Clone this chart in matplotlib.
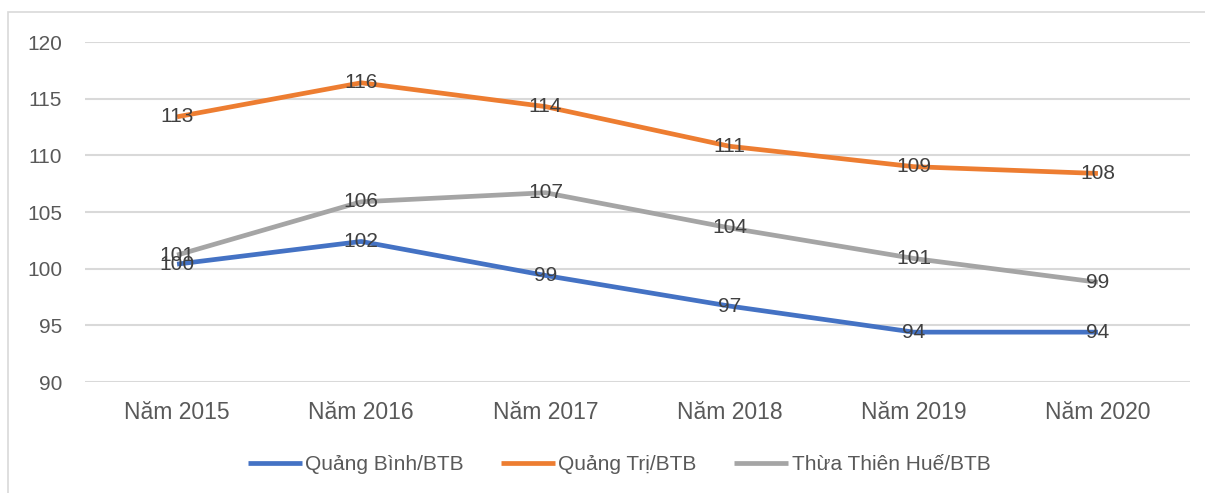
import matplotlib
matplotlib.use("Agg")
import matplotlib.pyplot as plt
from matplotlib.patches import Rectangle

categories = ["Năm 2015", "Năm 2016", "Năm 2017", "Năm 2018", "Năm 2019", "Năm 2020"]
quang_binh = [100.4, 102.4, 99.4, 96.7, 94.4, 94.4]
quang_tri = [113.4, 116.4, 114.3, 110.8, 109.0, 108.4]
thua_thien_hue = [101.2, 105.9, 106.7, 103.6, 100.9, 98.8]
series_names = ["Quảng Bình/BTB", "Quảng Trị/BTB", "Thừa Thiên Huế/BTB"]
yticks = [90, 95, 100, 105, 110, 115, 120]

colors = ["#4472C4", "#ED7D31", "#A5A5A5"]

W, H = 1205, 493
fig = plt.figure(figsize=(W / 100, H / 100), dpi=100)
ax = fig.add_axes([85 / W, 1 - 382 / H, (1190 - 85) / W, (382 - 42) / H])

# outer chart frame
fig.patches.append(Rectangle((8 / W, -0.1), 1.5, 1 - 12 / H + 0.1, transform=fig.transFigure,
                             fill=False, edgecolor="#d9d9d9", linewidth=1.2))

x = list(range(len(categories)))
for vals, name, c in zip([quang_binh, quang_tri, thua_thien_hue], series_names, colors):
    ax.plot(x, vals, color=c, linewidth=3.4, label=name, solid_capstyle="butt", zorder=3)
    for xi, v in zip(x, vals):
        ax.text(xi, v, f"{round(v):d}", ha="center", va="center", fontsize=15,
                color="#404040", family="Liberation Sans", zorder=4)

ax.set_xlim(-0.5, len(categories) - 0.5)
ax.set_ylim(90, 120)
ax.set_yticks(yticks)
ax.set_yticklabels([str(t) for t in yticks], fontsize=15, color="#595959", family="Liberation Sans")
ax.set_xticks(x)
ax.set_xticklabels(categories, fontsize=16.5, color="#595959", family="Liberation Sans")
ax.tick_params(axis="y", length=0, pad=16.5)
ax.tick_params(axis="x", length=0, pad=14)
ax.grid(axis="y", color="#d9d9d9", linewidth=1.5)
ax.set_axisbelow(True)
for s in ax.spines.values():
    s.set_visible(False)

leg = fig.legend(loc="center", bbox_to_anchor=(619 / W, 1 - 465 / H), ncol=3, frameon=False,
                 handlelength=2.6, handletextpad=0.15, columnspacing=1.8,
                 prop={"family": "Liberation Sans", "size": 15})
for t in leg.get_texts():
    t.set_color("#595959")

fig.savefig("out.png", dpi=100)
